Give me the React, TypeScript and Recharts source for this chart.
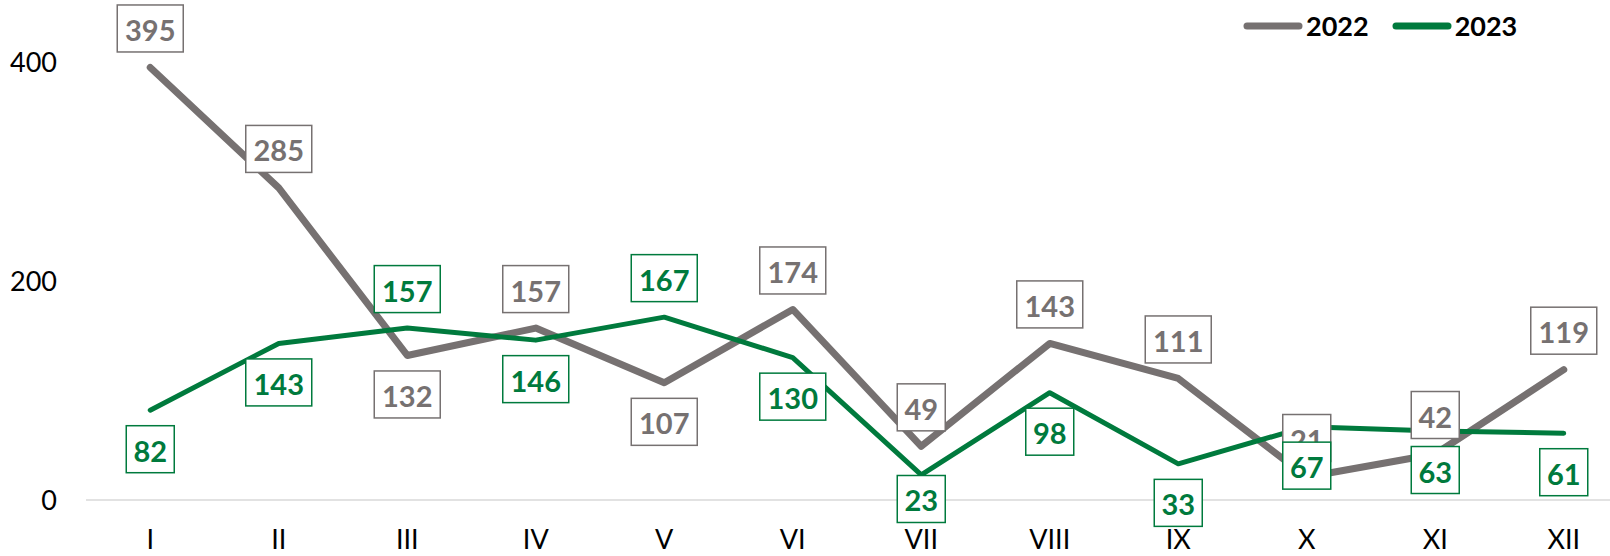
import { LineChart, Line, XAxis, YAxis } from 'recharts';

const MONTHS = ['I', 'II', 'III', 'IV', 'V', 'VI', 'VII', 'VIII', 'IX', 'X', 'XI', 'XII'];
const VALUES_2022 = [395, 285, 132, 157, 107, 174, 49, 143, 111, 21, 42, 119];
const VALUES_2023 = [82, 143, 157, 146, 167, 130, 23, 98, 33, 67, 63, 61];
const Y_TICKS = [0, 200, 400];

// label offset per point, in label distances: positive = above, negative = below
const SIDE_2022 = [1, 1, -1, 1, -1, 1, 1, 1, 1, 1, 1, 1];
const SIDE_2023 = [-1, -1, 1, -1, 1, -1, -0.62, -1, -1, -1, -1, -1];

const GREY = '#767171';
const GREEN = '#007A3D';
const FONT = 'Lato, "Open Sans", sans-serif';

const data = MONTHS.map((m, i) => ({ month: m, y2022: VALUES_2022[i], y2023: VALUES_2023[i] }));

function makeLabel(color: string, sides: number[]) {
  return (props: any) => {
    const { x, y, value, index } = props;
    if (x == null || y == null) return null;
    const text = String(value);
    const w = text.length >= 3 ? 66 : 48;
    const h = 47;
    const cy = y - sides[index] * 39;
    return (
      <g key={`lbl-${color}-${index}`}>
        <rect x={x - w / 2} y={cy - h / 2} width={w} height={h} fill="#fff" stroke={color} strokeWidth={1.5} />
        <text
          x={x}
          y={cy + 1}
          textAnchor="middle"
          dominantBaseline="central"
          fill={color}
          fontFamily={FONT}
          fontWeight={700}
          fontSize={29}
        >
          {text}
        </text>
      </g>
    );
  };
}

function LegendBox() {
  const items = [
    { name: '2022', color: GREY },
    { name: '2023', color: GREEN },
  ];
  return (
    <div
      style={{
        position: 'absolute',
        top: 8,
        left: 1242,
        display: 'flex',
        alignItems: 'center',
        fontFamily: FONT,
        fontWeight: 700,
        fontSize: 27,
        lineHeight: '36px',
      }}
    >
      {items.map((it) => (
        <div key={it.name} style={{ display: 'flex', alignItems: 'center', marginRight: 22 }}>
          <svg width={62} height={10} style={{ marginRight: 2 }}>
            <line x1={5} y1={5} x2={57} y2={5} stroke={it.color} strokeWidth={7} strokeLinecap="round" />
          </svg>
          <span style={{ color: '#000' }}>{it.name}</span>
        </div>
      ))}
    </div>
  );
}

export default function App() {
  return (
    <div style={{ position: 'absolute', left: 0, top: 0, width: 1610, height: 556, overflow: 'hidden', background: '#fff' }}>
      <LineChart width={1628} height={556} data={data} margin={{ top: 62, right: 0, bottom: 0, left: 0 }}>
        <XAxis
          dataKey="month"
          scale="band"
          height={56}
          axisLine={{ stroke: '#D9D9D9', strokeWidth: 1.5 }}
          tickLine={false}
          tickSize={0}
          tickMargin={30}
          tick={{ fill: '#000', fontFamily: FONT, fontSize: 27 }}
          interval={0}
        />
        <YAxis
          width={86}
          domain={[0, 400]}
          ticks={Y_TICKS}
          axisLine={false}
          tickLine={false}
          tickSize={0}
          tickMargin={29}
          tick={{ fill: '#000', fontFamily: FONT, fontSize: 27 }}
        />
        <Line
          dataKey="y2022"
          stroke={GREY}
          strokeWidth={7}
          strokeLinecap="round"
          strokeLinejoin="round"
          dot={false}
          isAnimationActive={false}
          label={makeLabel(GREY, SIDE_2022)}
        />
        <Line
          dataKey="y2023"
          stroke={GREEN}
          strokeWidth={5}
          strokeLinecap="round"
          strokeLinejoin="round"
          dot={false}
          isAnimationActive={false}
          label={makeLabel(GREEN, SIDE_2023)}
        />
      </LineChart>
      <LegendBox />
    </div>
  );
}
